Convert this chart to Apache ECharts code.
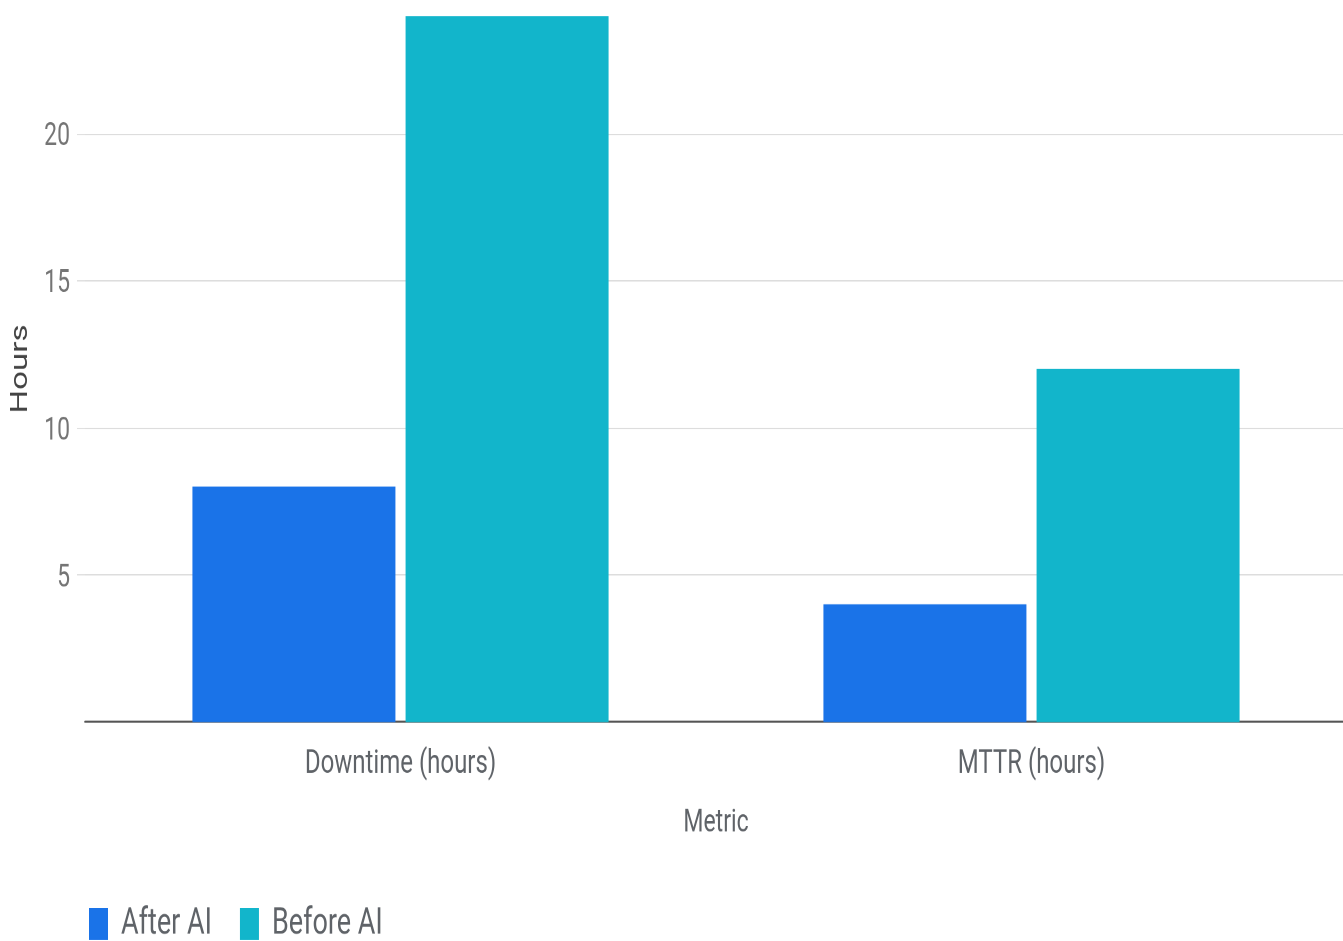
<!DOCTYPE html>
<html>
<head>
<meta charset="utf-8">
<title>Downtime and MTTR before and after AI</title>
<script src="https://cdn.jsdelivr.net/npm/echarts@6/dist/echarts.min.js"></script>
<style>
  html, body { margin: 0; padding: 0; background: #fff; overflow: hidden; }
  #wrap { width: 1343px; height: 941px; overflow: hidden; }
  /* the chart is laid out short and stretched vertically, giving its tall, narrow lettering;
     the plot runs a few pixels past the right edge of the page */
  #chart { width: 1347px; height: 682px; transform: scaleY(1.38); transform-origin: 0 0; }
</style>
</head>
<body>
<div id="wrap"><div id="chart"></div></div>
<script>
const categories = ['Downtime (hours)', 'MTTR (hours)'];
const seriesNames = ['After AI', 'Before AI'];
const afterAI = [8, 4];
const beforeAI = [24, 12];
const yTicks = { min: 0, max: 24, interval: 5 };

const FONT = 'Roboto, "Noto Sans", sans-serif';
const colors = ['#1a73e8', '#12b5cb'];

const chart = echarts.init(document.getElementById('chart'), null, { renderer: 'canvas', devicePixelRatio: 2 });

chart.setOption({
  animation: false,
  color: colors,
  textStyle: { fontFamily: FONT },
  grid: { left: 85, right: 0, top: 11.6, bottom: 158.8, containLabel: false },
  legend: {
    left: 89,
    top: 656,
    padding: 0,
    itemWidth: 19,
    itemHeight: 23,
    itemGap: 28,
    icon: 'rect',
    data: seriesNames,
    textStyle: { fontSize: 27, color: '#5f6368', fontFamily: FONT, padding: [0, 0, 0, 8] }
  },
  xAxis: {
    type: 'category',
    data: categories,
    name: 'Metric',
    nameLocation: 'middle',
    nameGap: 62,
    nameTextStyle: { fontSize: 23, color: '#5f6368', fontFamily: FONT },
    axisLine: { show: true, lineStyle: { color: '#555', width: 1.6 } },
    axisTick: { show: false },
    axisLabel: { fontSize: 24, color: '#5f6368', margin: 19, fontFamily: FONT },
    splitLine: { show: false }
  },
  yAxis: {
    type: 'value',
    min: yTicks.min,
    max: yTicks.max,
    interval: yTicks.interval,
    name: 'Hours',
    nameLocation: 'middle',
    nameGap: 48,
    nameTextStyle: { fontSize: 24, color: '#444', fontWeight: 'normal', fontFamily: FONT },
    axisLine: { show: false },
    axisTick: { show: true, length: 8, lineStyle: { color: '#e0e0e0' } },
    axisLabel: { fontSize: 23, color: '#757575', margin: 15, verticalAlign: 'top', lineHeight: 23, padding: [-9, 0, 0, 0], showMinLabel: false, showMaxLabel: false, fontFamily: FONT },
    splitLine: { show: true, showMinLine: false, showMaxLine: false, lineStyle: { color: '#dddddd', width: 1 } }
  },
  series: [
    { name: seriesNames[0], type: 'bar', data: afterAI, barWidth: 203, barGap: '5%' },
    { name: seriesNames[1], type: 'bar', data: beforeAI, barWidth: 203, barGap: '5%' }
  ]
});
</script>
</body>
</html>
